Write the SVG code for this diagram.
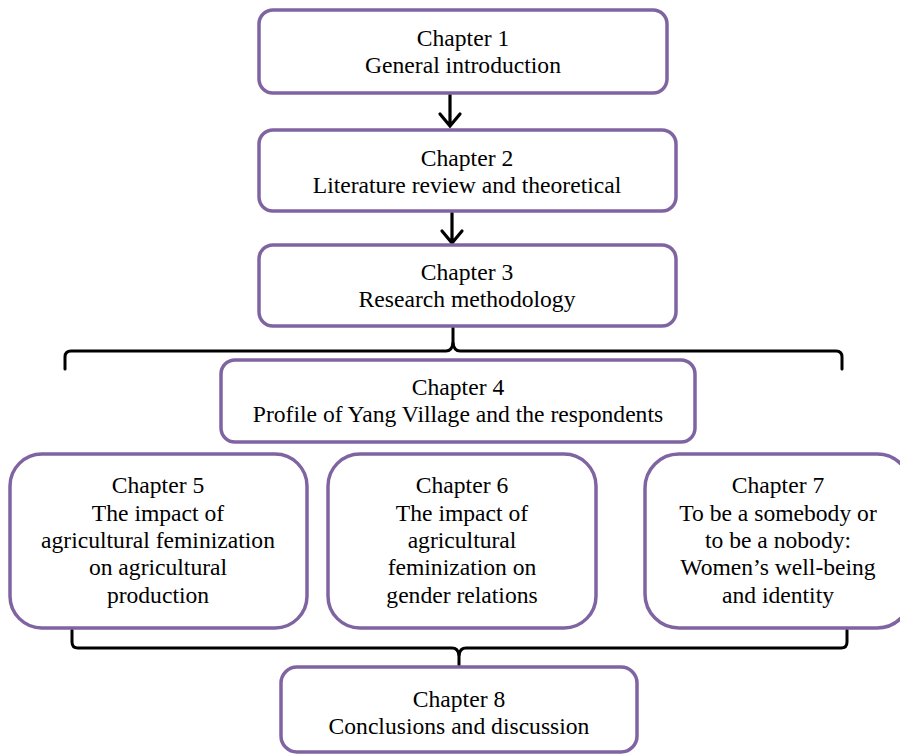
<svg xmlns="http://www.w3.org/2000/svg" width="900" height="756" viewBox="0 0 900 756">
  <style>
    .box { fill: #ffffff; stroke: #8064A2; stroke-width: 3.5; }
    .lbl { font-family: 'Liberation Serif', serif; font-size: 23.6px; fill: #000000; text-anchor: middle; }
    .wire { fill: none; stroke: #000000; stroke-width: 3; stroke-linecap: round; stroke-linejoin: round; }
    .head { fill: none; stroke: #000000; stroke-width: 3.2; stroke-linecap: round; stroke-linejoin: miter; }
  </style>
  <rect width="900" height="756" fill="#ffffff"/>

  <g id="connectors">
    <!-- straight arrows between the first three chapters -->
    <path class="head" d="M450,95 V125 M440,114 L450,126 L460,114"/>
    <path class="head" d="M452,213 V242 M442,231 L452,243 L462,231"/>
    <!-- brace opening out from chapter 3 -->
    <path class="wire" d="M65,369 V357 Q65,351 71,351 H446 Q452,351 453,343 Q454,351 460,351 H836 Q842,351 842,357 V369"/>
    <path class="wire" d="M453,344 V328"/>
    <!-- brace gathering chapters 5-7 into chapter 8 -->
    <path class="wire" d="M72,630 V642 Q72,648 78,648 H452 Q458,648 459,655 Q460,648 466,648 H841 Q847,648 847,642 V630"/>
    <path class="wire" d="M459,654 V666"/>
  </g>

  <g id="ch1">
    <rect class="box" x="259" y="10" width="408" height="83" rx="14"/>
    <text class="lbl" x="463" y="46">Chapter 1</text>
    <text class="lbl" x="463" y="73">General introduction</text>
  </g>

  <g id="ch2">
    <rect class="box" x="259" y="130" width="417" height="81" rx="14"/>
    <text class="lbl" x="467" y="166">Chapter 2</text>
    <text class="lbl" x="467" y="193">Literature review and theoretical</text>
  </g>

  <g id="ch3">
    <rect class="box" x="259" y="245" width="417" height="81" rx="14"/>
    <text class="lbl" x="467" y="280">Chapter 3</text>
    <text class="lbl" x="467" y="307">Research methodology</text>
  </g>

  <g id="ch4">
    <rect class="box" x="221" y="360" width="474" height="82" rx="14"/>
    <text class="lbl" x="458" y="395">Chapter 4</text>
    <text class="lbl" x="458" y="422">Profile of Yang Village and the respondents</text>
  </g>

  <g id="ch5">
    <rect class="box" x="10" y="454" width="297" height="174" rx="32"/>
    <text class="lbl" x="158" y="493">Chapter 5</text>
    <text class="lbl" x="158" y="521">The impact of</text>
    <text class="lbl" x="158" y="548">agricultural feminization</text>
    <text class="lbl" x="158" y="575">on agricultural</text>
    <text class="lbl" x="158" y="603">production</text>
  </g>

  <g id="ch6">
    <rect class="box" x="328" y="454" width="268" height="174" rx="32"/>
    <text class="lbl" x="462" y="493">Chapter 6</text>
    <text class="lbl" x="462" y="521">The impact of</text>
    <text class="lbl" x="462" y="548">agricultural</text>
    <text class="lbl" x="462" y="575">feminization on</text>
    <text class="lbl" x="462" y="603">gender relations</text>
  </g>

  <g id="ch7">
    <rect class="box" x="645" y="454" width="266" height="174" rx="34"/>
    <text class="lbl" x="778" y="493">Chapter 7</text>
    <text class="lbl" x="778" y="521">To be a somebody or</text>
    <text class="lbl" x="778" y="548">to be a nobody:</text>
    <text class="lbl" x="778" y="575">Women’s well-being</text>
    <text class="lbl" x="778" y="603">and identity</text>
  </g>

  <g id="ch8">
    <rect class="box" x="281" y="667" width="356" height="85" rx="16"/>
    <text class="lbl" x="459" y="707">Chapter 8</text>
    <text class="lbl" x="459" y="734">Conclusions and discussion</text>
  </g>
</svg>
